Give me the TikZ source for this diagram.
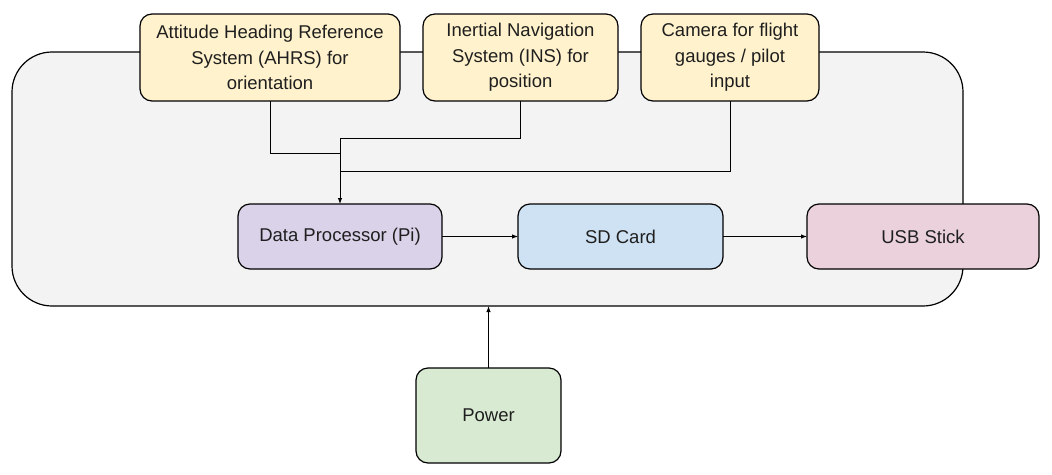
\documentclass[tikz,border=0pt]{standalone}
\usepackage{fontspec}
\setmainfont{Liberation Sans}
\usetikzlibrary{arrows.meta}
\definecolor{contfill}{HTML}{F3F3F3}
\definecolor{yel}{HTML}{FFF2CC}
\definecolor{lav}{HTML}{D9D2E9}
\definecolor{blu}{HTML}{CFE2F3}
\definecolor{pnk}{HTML}{EAD1DC}
\definecolor{grn}{HTML}{D9EAD3}
\definecolor{txt}{HTML}{1F1F1F}
\tikzset{
  blk/.style={draw=black, line width=1.2pt, rounded corners=12pt, outer sep=0pt, inner sep=2pt,
    align=center, text=txt, font=\fontsize{18.5}{25.5}\selectfont},
  container/.style={draw=black, line width=1.2pt, fill=contfill, rounded corners=40pt, outer sep=0pt},
  conn/.style={draw=black, line width=1pt},
  arr/.style={conn, -{Latex[length=6pt,width=4.5pt]}}
}
\begin{document}
\begin{tikzpicture}[x=1pt,y=-1pt]
\useasboundingbox (0,0) rectangle (1052,474);
\node[container, minimum width=951pt, minimum height=254pt] (box) at (487.5,179) {};
\node[blk, fill=yel, minimum width=260pt, minimum height=87pt] (ahrs) at (270,57.5) {Attitude Heading Reference\\System (AHRS) for\\orientation};
\node[blk, fill=yel, minimum width=195pt, minimum height=87pt] (ins) at (520.5,57.5) {Inertial Navigation\\System (INS) for\\position};
\node[blk, fill=yel, minimum width=178pt, minimum height=87pt] (cam) at (730,57.5) {Camera for flight\\gauges / pilot\\input};
\node[blk, fill=lav, minimum width=204pt, minimum height=65pt] (dp) at (340,236.5) {Data Processor (Pi)};
\node[blk, fill=blu, minimum width=205pt, minimum height=65pt] (sd) at (620.5,236.5) {SD Card};
\node[blk, fill=pnk, minimum width=232pt, minimum height=65pt] (usb) at (923,236.5) {USB Stick};
\node[blk, fill=grn, minimum width=145pt, minimum height=95pt] (pwr) at (488.5,415.5) {Power};
\coordinate (jt) at (340,138);
\coordinate (ja) at (340,153);
\coordinate (jc) at (340,171);
\draw[conn] (ahrs.south) |- (ja);
\draw[conn] (ins.south) |- (jt);
\draw[conn] (cam.south) |- (jc);
\draw[arr] (jt) -- (dp.north);
\draw[arr] (dp.east) -- (sd.west);
\draw[arr] (sd.east) -- (usb.west);
\draw[arr] (pwr.north) -- (pwr.north |- box.south);
\end{tikzpicture}
\end{document}
